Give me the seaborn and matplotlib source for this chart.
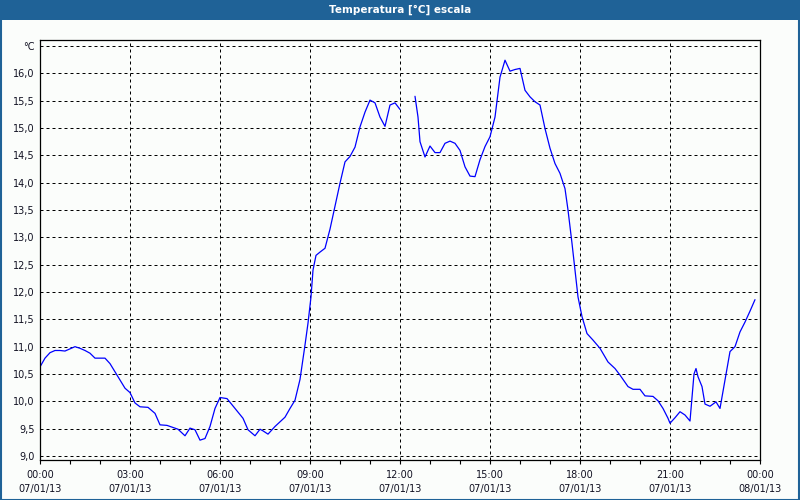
import numpy as np
import pandas as pd
import matplotlib
matplotlib.use("Agg")
import matplotlib.pyplot as plt
from matplotlib.patches import Rectangle
import seaborn as sns

# ---- data ----
times = ["00:00", "00:10", "00:20", "00:30", "00:40", "00:50", "01:00", "01:10", "01:20", "01:30",
         "01:40", "01:50", "02:10", "02:20", "02:40", "02:50", "03:00", "03:10", "03:20", "03:36",
         "03:50", "04:00", "04:14", "04:36", "04:50", "05:00", "05:10", "05:20", "05:30", "05:40",
         "05:50", "06:00", "06:14", "06:30", "06:46", "06:56", "07:10", "07:20", "07:26", "07:36",
         "07:50", "08:10", "08:20", "08:30", "08:40", "08:50", "08:56", "09:02", "09:06", "09:12",
         "09:20", "09:30", "09:40", "10:00", "10:10", "10:20", "10:30", "10:40", "10:50", "11:00",
         "11:10", "11:20", "11:30", "11:40", "11:50", "12:00",
         "12:30", "12:36", "12:40", "12:50", "13:00", "13:10", "13:20", "13:30", "13:40", "13:50",
         "14:00", "14:10", "14:20", "14:30", "14:40", "14:50", "15:00", "15:10", "15:20", "15:30",
         "15:40", "15:50", "16:00", "16:10", "16:20", "16:30", "16:40", "16:50", "17:00", "17:10",
         "17:20", "17:30", "17:36", "17:44", "17:50", "17:56", "18:04", "18:14", "18:26", "18:40",
         "18:56", "19:10", "19:20", "19:36", "19:46", "20:00", "20:10", "20:26", "20:36", "20:46",
         "20:56", "21:00", "21:10", "21:20", "21:30", "21:40", "21:48", "21:52", "21:56", "22:04",
         "22:10", "22:20", "22:32", "22:40", "22:50", "23:00", "23:10", "23:20", "23:30", "23:40",
         "23:50"]
temps = [10.63, 10.79, 10.89, 10.93, 10.93, 10.92, 10.96, 11.00, 10.97, 10.93,
         10.88, 10.79, 10.79, 10.69, 10.39, 10.24, 10.16, 9.97, 9.90, 9.89,
         9.78, 9.57, 9.56, 9.49, 9.37, 9.51, 9.48, 9.29, 9.32, 9.54,
         9.87, 10.07, 10.05, 9.87, 9.69, 9.48, 9.37, 9.49, 9.46, 9.40,
         9.54, 9.71, 9.87, 10.02, 10.40, 11.03, 11.43, 11.91, 12.40, 12.67,
         12.73, 12.80, 13.15, 13.99, 14.38, 14.48, 14.65, 15.02, 15.29, 15.51,
         15.46, 15.20, 15.03, 15.42, 15.46, 15.34,
         15.58, 15.20, 14.75, 14.47, 14.67, 14.55, 14.55, 14.72, 14.76, 14.72,
         14.59, 14.29, 14.12, 14.11, 14.42, 14.66, 14.84, 15.20, 15.93, 16.24,
         16.04, 16.07, 16.09, 15.69, 15.57, 15.48, 15.42, 14.99, 14.63, 14.35,
         14.17, 13.89, 13.50, 12.89, 12.40, 11.91, 11.55, 11.24, 11.12, 10.97,
         10.72, 10.60, 10.48, 10.27, 10.22, 10.22, 10.10, 10.09, 10.01, 9.87,
         9.69, 9.60, 9.70, 9.81, 9.75, 9.64, 10.50, 10.60, 10.45, 10.27,
         9.95, 9.91, 9.99, 9.87, 10.39, 10.91, 11.00, 11.27, 11.45, 11.65,
         11.86]
gap_after = "12:00"   # no data between 12:00 and 12:30

x_tick_labels = ["00:00\n07/01/13", "03:00\n07/01/13", "06:00\n07/01/13", "09:00\n07/01/13",
                 "12:00\n07/01/13", "15:00\n07/01/13", "18:00\n07/01/13", "21:00\n07/01/13",
                 "00:00\n08/01/13"]
y_tick_labels = ["9,0", "9,5", "10,0", "10,5", "11,0", "11,5", "12,0", "12,5", "13,0",
                 "13,5", "14,0", "14,5", "15,0", "15,5", "16,0", "°C"]
title = "Temperatura [°C] escala"

# ---- build table ----
def to_hours(t):
    h, m = t.split(":")
    return int(h) + int(m) / 60.0

hours = [to_hours(t) for t in times]
gap_h = to_hours(gap_after)
df = pd.DataFrame({"hour": hours, "temp": temps})
df["segment"] = (df["hour"] > gap_h).astype(int)

# ---- figure ----
bg = "#fbfdfb"
frame_blue = "#1f6297"
sns.set_theme(style="white")
plt.rcParams["font.family"] = ["DejaVu Sans"]

fig = plt.figure(figsize=(8, 5), dpi=100, facecolor=bg)
ax = fig.add_axes([40 / 800, 40 / 500, 720 / 800, 420 / 500])
ax.set_facecolor(bg)

sns.lineplot(data=df, x="hour", y="temp", units="segment", estimator=None,
             color="#0000ff", linewidth=0.9, ax=ax, legend=False)

ax.set_xlim(0, 24)
ax.set_ylim(9.0 - 4 / 54.67, 16.5 + 6 / 54.67)

ax.set_xticks(np.arange(0, 25, 3))
ax.set_xticklabels(x_tick_labels, fontsize=7, color="#111122", linespacing=1.55)
ax.set_xticks(np.arange(0, 25, 1), minor=True)
ax.set_yticks(np.arange(9.0, 16.51, 0.5))
ax.set_yticklabels(y_tick_labels, fontsize=7, color="#111122")

ax.tick_params(axis="x", which="both", direction="out", length=3, width=0.8,
               color="black", pad=4, bottom=True)
ax.tick_params(axis="y", which="both", length=0, pad=4, left=True)

ax.set_xlabel("")
ax.set_ylabel("")

for yv in np.arange(9.0, 16.51, 0.5):
    ax.axhline(yv, color="black", linewidth=0.72, linestyle=(0, (3, 3)), zorder=0.5)
for xv in np.arange(3, 22, 3):
    ax.axvline(xv, color="black", linewidth=0.72, linestyle=(0, (3, 3)), zorder=0.5)

for s in ax.spines.values():
    s.set_visible(True)
    s.set_color("black")
    s.set_linewidth(0.9)

# title bar and window frame
fig.patches.append(Rectangle((0, 1 - 20 / 500), 1, 20 / 500, transform=fig.transFigure,
                             facecolor=frame_blue, edgecolor="none", zorder=0))
fig.patches.append(Rectangle((0.5 / 800, 0.5 / 500), 798.5 / 800, 498 / 500,
                             transform=fig.transFigure, facecolor="none",
                             edgecolor=frame_blue, linewidth=1.5, zorder=0))
fig.text(0.5, 1 - 10 / 500, title, color="white", fontsize=7.5, fontweight="bold",
         ha="center", va="center")

fig.savefig("out.png", dpi=100, facecolor=bg)
